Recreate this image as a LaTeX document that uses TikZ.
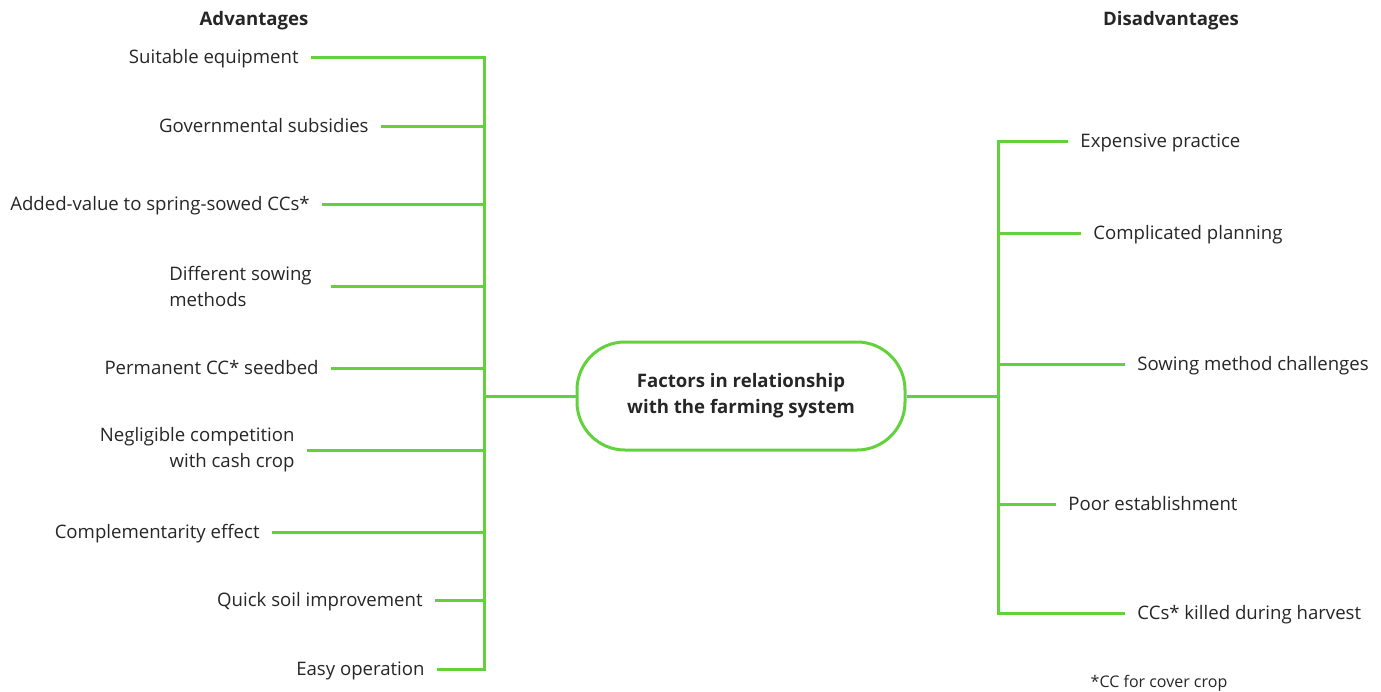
\documentclass[tikz,border=0pt]{standalone}
\usepackage{fontspec}
\setmainfont{Open Sans}
\definecolor{leaf}{RGB}{98,210,60}
\definecolor{ink}{RGB}{38,38,38}
\begin{document}
\begin{tikzpicture}[x=0.5pt,y=-0.5pt,
  txt/.style={font=\fontsize{9.3}{13}\selectfont, text=ink},
  item/.style={txt, inner xsep=6pt, inner ysep=1pt},
  one/.style={text height=6.7pt, text depth=0pt},
  lft/.style={item, anchor=east},
  rgt/.style={item, anchor=west},
  head/.style={font=\fontsize{9.3}{13}\selectfont\bfseries, text=ink},
  hub/.style={draw=leaf, line width=1.5pt, rounded corners=24pt, minimum width=164pt,
    minimum height=54pt, align=center, font=\fontsize{9.3}{13}\selectfont\bfseries, text=ink},
  branch/.style={draw=leaf, line width=1.5pt, line join=miter}
]
\useasboundingbox (0,0) rectangle (1381,691);

% column headings
\node[head, one] (hadv) at (254,19) {Advantages};
\node[head, one] (hdis) at (1171,19) {Disadvantages};

% central box
\node[hub] (hub) at (741,396) {Factors in relationship\\with the farming system};

% advantages, right ends of their branches
\node[lft, one] (a1) at (311,57) {Suitable equipment};
\node[lft, one] (a2) at (381,126) {Governmental subsidies};
\node[lft, one] (a3) at (322,204) {Added-value to spring-sowed CCs*};
\node[lft, align=left, inner xsep=9.5pt] (a4) at (331,286) {Different sowing\\methods};
\node[lft, one] (a5) at (331,368) {Permanent CC* seedbed};
\node[lft, align=right] (a6) at (307,450) {Negligible competition\\with cash crop};
\node[lft, one] (a7) at (272,532) {Complementarity effect};
\node[lft, one] (a8) at (435,600) {Quick soil improvement};
\node[lft, one] (a9) at (437,669) {Easy operation};

% disadvantages, left ends of their branches
\node[rgt, one] (d1) at (1068,141) {Expensive practice};
\node[rgt, one] (d2) at (1081,233) {Complicated planning};
\node[rgt, one] (d3) at (1125,364) {Sowing method challenges};
\node[rgt, one] (d4) at (1056,504) {Poor establishment};
\node[rgt, one] (d5) at (1125,613) {CCs* killed during harvest};

\node[txt, font=\fontsize{8}{10}\selectfont, text height=5.8pt, text depth=0pt] (note) at (1159,682) {*CC for cover crop};

% trunk junctions
\coordinate (L1) at (484,57);
\coordinate (L2) at (484,126);
\coordinate (L3) at (484,204);
\coordinate (L4) at (484,286);
\coordinate (L5) at (484,368);
\coordinate (L6) at (484,450);
\coordinate (L7) at (484,532);
\coordinate (L8) at (484,600);
\coordinate (L9) at (484,669);
\coordinate (LM) at (484,396);

\coordinate (R1) at (998,141);
\coordinate (R2) at (998,233);
\coordinate (R3) at (998,364);
\coordinate (R4) at (998,504);
\coordinate (R5) at (998,613);
\coordinate (RM) at (998,396);

% left tree
\draw[branch] (a1.east) -- (L1) -- (L9) -- (a9.east);
\foreach \n in {2,...,8} \draw[branch] (a\n.east) -- (L\n);
\draw[branch] (hub.west) -- (LM);

% right tree
\draw[branch] (d1.west) -- (R1) -- (R5) -- (d5.west);
\foreach \n in {2,3,4} \draw[branch] (d\n.west) -- (R\n);
\draw[branch] (hub.east) -- (RM);
\end{tikzpicture}
\end{document}
